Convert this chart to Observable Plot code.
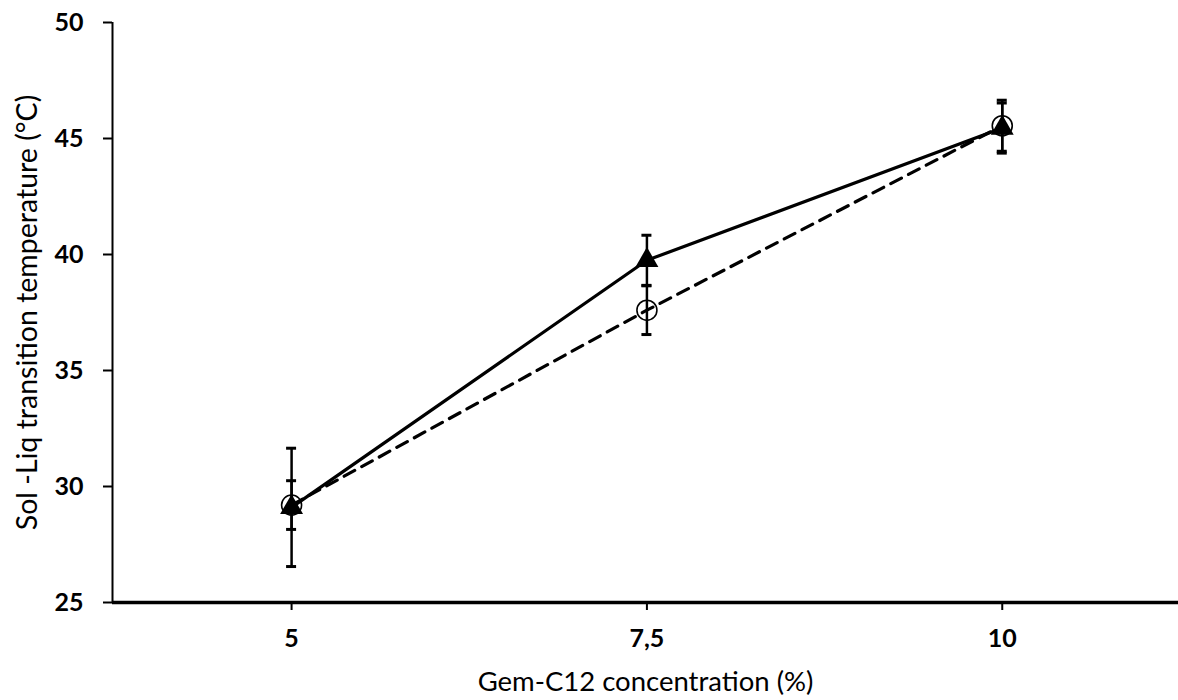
<!DOCTYPE html>
<html>
<head>
<meta charset="utf-8">
<script src="https://cdn.jsdelivr.net/npm/d3@7"></script>
<script src="https://cdn.jsdelivr.net/npm/@observablehq/plot@0.6"></script>
<style>
  html, body { margin: 0; padding: 0; background: #fff; }
  #chart svg { display: block; }
</style>
</head>
<body>
<div id="chart"></div>
<script>
// Data
const concentrations = [5, 7.5, 10];
const xTickLabels = ["5", "7,5", "10"];
const yTicks = [25, 30, 35, 40, 45, 50];

// Series A: filled triangles, solid line
const triMean = [29.1, 39.75, 45.45];
const triErr  = [2.55, 1.08, 1.08];

// Series B: open circles, dashed line
const circMean = [29.2, 37.6, 45.55];
const circErr  = [1.05, 1.05, 1.1];

const tri = concentrations.map((x, i) => ({x, y: triMean[i], lo: triMean[i] - triErr[i], hi: triMean[i] + triErr[i]}));
const circ = concentrations.map((x, i) => ({x, y: circMean[i], lo: circMean[i] - circErr[i], hi: circMean[i] + circErr[i]}));

const xMin = 3.74, xMax = 11.24;
const font = "Lato, 'Open Sans', sans-serif";

function errorBars(data) {
  return [
    Plot.ruleX(data, {x: "x", y1: "lo", y2: "hi", stroke: "#000", strokeWidth: 2.5}),
    Plot.ruleY(data, {x1: "x", x2: "x", y: "hi", stroke: "#000", strokeWidth: 3, insetLeft: -5, insetRight: -5}),
    Plot.ruleY(data, {x1: "x", x2: "x", y: "lo", stroke: "#000", strokeWidth: 3, insetLeft: -5, insetRight: -5})
  ];
}

const chart = Plot.plot({
  width: 1178,
  height: 700,
  marginLeft: 112,
  marginRight: 0,
  marginTop: 22,
  marginBottom: 98,
  style: {fontFamily: font, background: "#fff", color: "#000", overflow: "visible"},
  x: {domain: [xMin, xMax], label: null},
  y: {domain: [25, 50], label: null},
  marks: [
    // axes
    Plot.axisY({ticks: yTicks, tickSize: 9, tickPadding: 20, fontSize: 25, fontWeight: "bold", tickFormat: d => String(d), stroke: "#000", strokeWidth: 2}),
    Plot.axisX({ticks: concentrations, tickSize: 8, tickPadding: 19, fontSize: 25, fontWeight: "bold", tickFormat: (d) => xTickLabels[concentrations.indexOf(d)], stroke: "#000", strokeWidth: 2}),
    Plot.ruleX([xMin], {stroke: "#000", strokeWidth: 2}),
    Plot.ruleY([25], {stroke: "#000", strokeWidth: 3.5}),
    // titles
    Plot.text(["Gem-C12 concentration (%)"], {frameAnchor: "bottom", dy: 80, fontSize: 27.5, fill: "#000", lineAnchor: "middle", textAnchor: "middle"}),
    Plot.text(["Sol -Liq transition temperature (°C)"], {frameAnchor: "left", dx: -85, dy: 0, rotate: -90, fontSize: 28.5, fill: "#000", lineAnchor: "middle", textAnchor: "middle"}),
    // error bars
    ...errorBars(tri),
    ...errorBars(circ),
    // lines
    Plot.line(circ, {x: "x", y: "y", stroke: "#000", strokeWidth: 3.2, strokeDasharray: "12,8"}),
    Plot.line(tri, {x: "x", y: "y", stroke: "#000", strokeWidth: 3.2}),
    // markers
    Plot.dot(circ, {x: "x", y: "y", r: 10, stroke: "#000", strokeWidth: 1.6, fill: "none", symbol: "circle"}),
    Plot.dot(tri, {x: "x", y: "y", r: 8.5, fill: "#000", stroke: "none", symbol: "triangle"})
  ]
});

document.getElementById("chart").appendChild(chart);
</script>
</body>
</html>
